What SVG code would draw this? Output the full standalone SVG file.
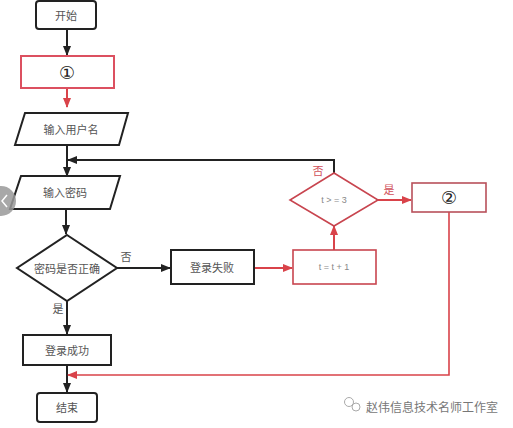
<svg xmlns="http://www.w3.org/2000/svg" width="513" height="428" viewBox="0 0 513 428">
<defs>
<style>
.k{fill:#fff;stroke:#222;stroke-width:2}
.r{fill:#fff;stroke:#c8454f;stroke-width:1.6}
.t{font-family:"Noto Sans CJK SC","Liberation Sans",sans-serif;font-size:11px;fill:#555;text-anchor:middle;dominant-baseline:central}
.s{font-family:"Liberation Sans",sans-serif;font-size:9px;fill:#888;text-anchor:middle;dominant-baseline:central}
.lk{fill:none;stroke:#222;stroke-width:2}
.lr{fill:none;stroke:#d9434a;stroke-width:2}
.num{font-family:"DejaVu Sans","Noto Sans CJK SC",sans-serif;font-size:18px;fill:#222;text-anchor:middle;dominant-baseline:central}
</style>
<marker id="ak" markerWidth="10" markerHeight="8" refX="9" refY="4" orient="auto" markerUnits="userSpaceOnUse"><path d="M0,0 L10,4 L0,8 Z" fill="#222"/></marker>
<marker id="ar" markerWidth="10" markerHeight="8" refX="9" refY="4" orient="auto" markerUnits="userSpaceOnUse"><path d="M0,0 L10,4 L0,8 Z" fill="#d9434a"/></marker>
</defs>
<rect width="513" height="428" fill="#fff"/>
<g id="connectors">
<path class="lk" d="M67,29 V55" marker-end="url(#ak)"/>
<path class="lr" d="M67,88 V107" marker-end="url(#ar)"/>
<path class="lk" d="M67,145 V176" marker-end="url(#ak)"/>
<path class="lk" d="M66,209 V234" marker-end="url(#ak)"/>
<path class="lk" d="M117,268 H170" marker-end="url(#ak)"/>
<path class="lk" d="M67,301 V334" marker-end="url(#ak)"/>
<path class="lk" d="M67,365 V392" marker-end="url(#ak)"/>
<path class="lr" d="M254,268 H292" marker-end="url(#ar)"/>
<path class="lr" d="M334,250 V226" marker-end="url(#ar)"/>
<path class="lr" d="M378,200 H411" marker-end="url(#ar)"/>
<path class="lk" d="M334,173 V160 H68" marker-end="url(#ak)"/>
<path class="lr" d="M449,212 V375 H68" marker-end="url(#ar)" style="stroke-width:1.6"/>
<text class="t" x="126" y="256">否</text>
<text class="t" x="58" y="308">是</text>
<text class="t" x="318" y="170" style="fill:#d0505a">否</text>
<text class="t" x="389" y="189" style="fill:#d0505a">是</text>
</g>
<g id="start"><rect class="k" x="36" y="1" width="60" height="28" rx="3"/><text class="t" x="66" y="15">开始</text></g>
<g id="step1"><rect class="r" x="21" y="56" width="93" height="32" style="stroke:#dc5060;stroke-width:2"/><text class="num" x="67" y="72">①</text></g>
<g id="inputUser"><polygon class="k" points="25,113 128,113 119,145 15,145"/><text class="t" x="71" y="129">输入用户名</text></g>
<g id="inputPwd"><polygon class="k" points="21,176 120,176 110,209 10,209"/><text class="t" x="65" y="192">输入密码</text></g>
<g id="check"><polygon class="k" points="67,235 117,268 67,301 17,268"/><text class="t" x="67" y="268">密码是否正确</text></g>
<g id="fail"><rect class="k" x="171" y="250" width="83" height="34"/><text class="t" x="212" y="267">登录失败</text></g>
<g id="inc"><rect class="r" x="293" y="250" width="83" height="34"/><text class="s" x="334" y="267">t = t + 1</text></g>
<g id="cond"><polygon class="r" points="334,173 378,200 334,226 290,200"/><text class="s" x="334" y="200">t &gt; = 3</text></g>
<g id="step2"><rect class="r" x="412" y="183" width="74" height="29" style="stroke:#b8505a"/><text class="num" x="449" y="197">②</text></g>
<g id="success"><rect class="k" x="23" y="335" width="88" height="30"/><text class="t" x="67" y="350">登录成功</text></g>
<g id="end"><rect class="k" x="37" y="393" width="60" height="29" rx="3"/><text class="t" x="67" y="407">结束</text></g>
<g id="overlay">
<circle cx="1" cy="201" r="15" fill="#999" opacity="0.85"/>
<path d="M7,195 L2,201 L7,207" fill="none" stroke="#fff" stroke-width="1.5"/>
</g>
<g id="watermark">
<circle cx="349" cy="402" r="4.5" fill="none" stroke="#aaa" stroke-width="1"/>
<circle cx="356" cy="407" r="4" fill="none" stroke="#aaa" stroke-width="1"/>
<text x="366" y="406" style="font-family:'Noto Sans CJK SC',sans-serif;font-size:12px;fill:#777;dominant-baseline:central">赵伟信息技术名师工作室</text>
</g>
</svg>
